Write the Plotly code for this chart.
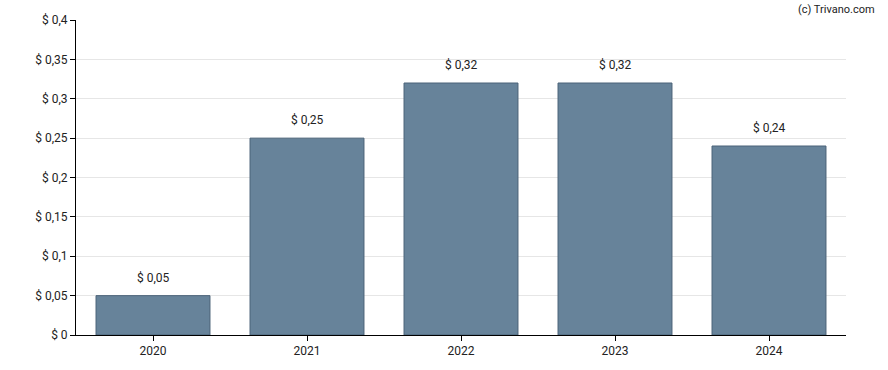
import plotly.graph_objects as go

years = ["2020", "2021", "2022", "2023", "2024"]
values = [0.05, 0.25, 0.32, 0.32, 0.24]
label_texts = ["$ 0,05", "$ 0,25", "$ 0,32", "$ 0,32", "$ 0,24"]
y_tickvals = [0, 0.05, 0.1, 0.15, 0.2, 0.25, 0.3, 0.35, 0.4]
y_ticktext = ["$ 0", "$ 0,05", "$ 0,1", "$ 0,15", "$ 0,2", "$ 0,25", "$ 0,3", "$ 0,35", "$ 0,4"]

fig = go.Figure()
fig.add_trace(go.Bar(
    x=years, y=values,
    marker=dict(color="#67839a", line=dict(color="#4b6378", width=1)),
))

# category axis: annotation x given as category index
annotations = [dict(x=i, y=v, text=t, xref="x", yref="y", showarrow=False,
                    yanchor="bottom", yshift=9,
                    font=dict(size=12, color="#222222"))
               for i, (v, t) in enumerate(zip(values, label_texts))]
annotations.append(dict(text="(c) Trivano.com", xref="paper", yref="paper",
                        x=1.0, y=1.0, xanchor="right", yanchor="bottom",
                        xshift=31, yshift=2, showarrow=False,
                        font=dict(size=11, color="#222222")))

fig.update_layout(
    width=888, height=370,
    margin=dict(l=76, r=42, t=20, b=35),
    plot_bgcolor="white", paper_bgcolor="white",
    font=dict(family="Roboto, Arial, sans-serif", size=12, color="#222222"),
    bargap=0.26,
    showlegend=False,
    xaxis=dict(type="category", showline=True, linecolor="black", linewidth=1, ticks="outside",
               ticklen=5, tickcolor="black", showgrid=False),
    yaxis=dict(range=[0, 0.4], tickvals=y_tickvals, ticktext=y_ticktext,
               showline=True, linecolor="black", linewidth=1, ticks="outside",
               ticklen=5, tickcolor="black", showgrid=True, gridcolor="#e6e6e6",
               zeroline=False),
    annotations=annotations,
)
fig.write_html("out.html", config={"displayModeBar": False},
               post_script="document.body.style.margin='0';")
